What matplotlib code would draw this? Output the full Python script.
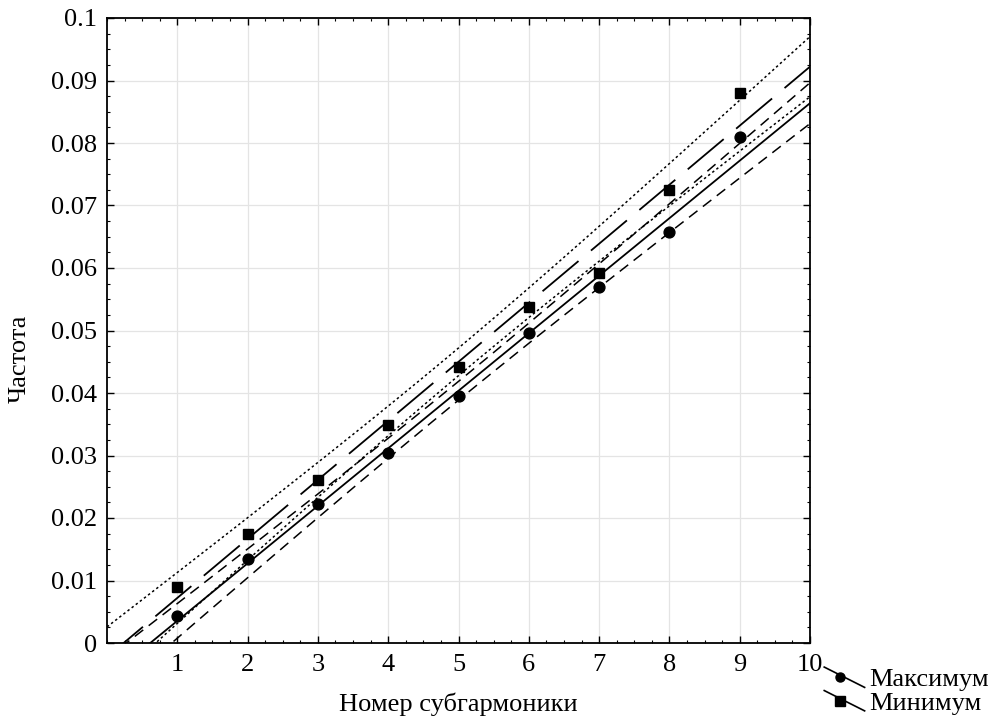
import numpy as np
import matplotlib
matplotlib.use('Agg')
import matplotlib.pyplot as plt
from matplotlib.lines import Line2D
from matplotlib.legend_handler import HandlerBase
from matplotlib.ticker import MultipleLocator

# ---- data ----
harmonics = [1, 2, 3, 4, 5, 6, 7, 8, 9]
max_vals = [0.0044, 0.0134, 0.0222, 0.0304, 0.0395, 0.0496, 0.0569, 0.0658, 0.0810]
min_vals = [0.0089, 0.0174, 0.0261, 0.0349, 0.0442, 0.0537, 0.0592, 0.0725, 0.0880]
x_ticks = [1, 2, 3, 4, 5, 6, 7, 8, 9, 10]
y_ticks = [0, 0.01, 0.02, 0.03, 0.04, 0.05, 0.06, 0.07, 0.08, 0.09, 0.1]
y_tick_labels = ['0', '0.01', '0.02', '0.03', '0.04', '0.05', '0.06', '0.07', '0.08', '0.09', '0.1']
labels = ['Максимум', 'Минимум']
x_label = 'Номер субгармоники'
y_label = 'Частота'

plt.rcParams['font.family'] = ['Liberation Serif', 'DejaVu Serif']
FS = 19


def fit_band(x, y, xs, t=2.3646):
    x = np.asarray(x, float)
    y = np.asarray(y, float)
    b, a = np.polyfit(x, y, 1)
    yhat = a + b * xs
    resid = y - (a + b * x)
    n = len(x)
    s = np.sqrt(np.sum(resid ** 2) / (n - 2))
    sxx = np.sum((x - x.mean()) ** 2)
    se = s * np.sqrt(1.0 / n + (xs - x.mean()) ** 2 / sxx)
    return yhat, yhat - t * se, yhat + t * se


fig = plt.figure(figsize=(9.94, 7.19), dpi=100)
ax = fig.add_axes([107 / 994, 1 - 643 / 719, 703 / 994, 625 / 719])

xs = np.linspace(0, 10, 400)
mx_fit, mx_lo, mx_hi = fit_band(harmonics, max_vals, xs)
mn_fit, mn_lo, mn_hi = fit_band(harmonics, min_vals, xs)

# maximum: solid fit, dashed confidence band
ax.plot(xs, mx_fit, color='black', lw=1.3, zorder=3)
ax.plot(xs, mx_lo, color='black', lw=1.1, dashes=(7, 4.5), zorder=3)
ax.plot(xs, mx_hi, color='black', lw=1.1, dashes=(7, 4.5), zorder=3)
# minimum: long-dash fit, dotted confidence band
ax.plot(xs, mn_fit, color='black', lw=1.3, dashes=(26, 9), zorder=3)
ax.plot(xs, mn_lo, color='black', lw=1.1, dashes=(1.6, 1.8), zorder=3)
ax.plot(xs, mn_hi, color='black', lw=1.1, dashes=(1.6, 1.8), zorder=3)

ax.plot(harmonics, max_vals, 'o', color='black', ms=7.8, zorder=4, ls='none')
ax.plot(harmonics, min_vals, 's', color='black', ms=7.8, zorder=4, ls='none')

ax.set_xlim(0, 10)
ax.set_ylim(0, 0.1)
ax.set_xticks(x_ticks)
ax.set_xticklabels([str(v) for v in x_ticks])
ax.set_yticks(y_ticks)
ax.set_yticklabels(y_tick_labels)
ax.xaxis.set_minor_locator(MultipleLocator(0.25))
ax.yaxis.set_minor_locator(MultipleLocator(0.0025))
ax.tick_params(which='major', direction='in', length=5, width=1, labelsize=FS,
               top=True, right=True, color='black')
ax.tick_params(which='minor', direction='in', length=2.5, width=0.8,
               top=True, right=True, color='black')
ax.tick_params(axis='x', which='major', pad=8)
ax.tick_params(axis='y', which='major', pad=7)
ax.grid(True, which='major', color='#e4e4e4', lw=0.9, zorder=0)
ax.set_axisbelow(True)
for sp in ax.spines.values():
    sp.set_linewidth(1.3)
    sp.set_color('black')

ax.set_xlabel(x_label, fontsize=FS, labelpad=12)
ax.set_ylabel(y_label, fontsize=FS)
ax.yaxis.set_label_coords(-0.108, 0.455)


class DiagHandler(HandlerBase):
    def __init__(self, marker):
        super().__init__()
        self.marker = marker

    def create_artists(self, legend, orig_handle, xdescent, ydescent, width, height,
                       fontsize, trans):
        x0, x1 = -xdescent, -xdescent + width
        y0, y1 = -ydescent, -ydescent + height
        ln = Line2D([x0 + 0.05 * width, x0 + 0.95 * width],
                    [y1 + 0.05 * height, y0 - 0.05 * height],
                    color='black', lw=1.2, transform=trans)
        mk = Line2D([x0 + 0.4 * width], [y0 + 0.5 * height], marker=self.marker,
                    color='black', ms=6.5, ls='none', transform=trans)
        return [ln, mk]


h1 = Line2D([], [], marker='o', color='black')
h2 = Line2D([], [], marker='s', color='black')
fig.legend([h1, h2], labels, handler_map={h1: DiagHandler('o'), h2: DiagHandler('s')},
           loc='upper left', bbox_to_anchor=(822 / 994, 1 - 668 / 719), frameon=False,
           fontsize=FS, handlelength=1.7, handletextpad=0.1, labelspacing=0.0,
           borderpad=0, borderaxespad=0)

fig.savefig('out.png', dpi=100)
